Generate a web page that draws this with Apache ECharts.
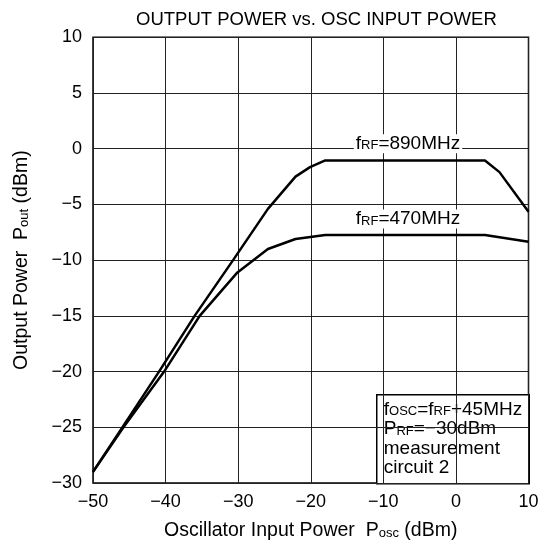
<!DOCTYPE html>
<html>
<head>
<meta charset="utf-8">
<script src="https://cdn.jsdelivr.net/npm/echarts@6/dist/echarts.min.js"></script>
<style>
  html, body { margin: 0; padding: 0; background: #fff; }
  #chart { width: 547px; height: 546px; }
</style>
</head>
<body>
<div id="chart"></div>
<script>
// Oscillator input power (dBm) and output power (dBm) for each RF frequency
const pin890 = [-50, -40.9, -36, -30.7, -25.9, -22.1, -20.1, -18, 4, 6, 10];
const pout890 = [-29, -20, -15, -10, -5.4, -2.5, -1.65, -1.05, -1.05, -2.1, -5.65];

const pin470 = [-50, -45.8, -40.2, -35.3, -30.1, -25.9, -22.1, -18, 4, 10];
const pout470 = [-29, -25, -20, -15, -11.1, -9.0, -8.1, -7.75, -7.75, -8.35];

const xTicks = [-50, -40, -30, -20, -10, 0, 10];
const yTicks = [-30, -25, -20, -15, -10, -5, 0, 5, 10];

const FONT = '"Liberation Sans", Arial, sans-serif';
const minus = v => String(v).replace('-', '\u2212');

const pairs = (xs, ys) => xs.map((x, i) => [x, ys[i]]);

const sub = { fontSize: 13, fontFamily: FONT, color: '#000', verticalAlign: 'bottom', padding: [0, 0, 1, 0] };
const main = { fontSize: 19, fontFamily: FONT, color: '#000' };
const nameMain = Object.assign({}, main, { fontSize: 19.5 });

const chart = echarts.init(document.getElementById('chart'), null, { renderer: 'canvas' });

const curveLabel = (name, x, y) => ({
  symbol: 'rect',
  symbolSize: 1,
  itemStyle: { color: 'rgba(0,0,0,0)' },
  silent: true,
  data: [{
    coord: [x, y],
    label: {
      show: true,
      position: 'inside',
      formatter: '{m|f}{s|RF}{m|=' + name + '}',
      backgroundColor: '#fff',
      padding: [0, 2, 0, 2],
      rich: { m: main, s: sub }
    }
  }]
});

chart.setOption({
  animation: false,
  backgroundColor: '#fff',
  title: {
    text: 'OUTPUT POWER vs. OSC INPUT POWER',
    left: 136,
    top: 10,
    padding: 0,
    textStyle: { fontFamily: FONT, fontSize: 18.5, fontWeight: 'normal', color: '#000' }
  },
  grid: {
    left: 93, right: 18.5, top: 37.3, bottom: 63,
    show: true, borderColor: '#000', borderWidth: 1.5, backgroundColor: 'transparent'
  },
  xAxis: {
    type: 'value', min: -50, max: 10, interval: 10,
    axisLine: { show: false }, axisTick: { show: false },
    splitLine: { show: true, lineStyle: { color: '#222', width: 1 } },
    axisLabel: {
      margin: 10, fontFamily: FONT, fontSize: 18, color: '#000',
      formatter: v => xTicks.includes(v) ? minus(v) : ''
    },
    name: '{m|Oscillator Input Power  P}{s|osc}{m| (dBm)}',
    nameLocation: 'middle', nameGap: 38,
    nameTextStyle: { rich: { m: nameMain, s: sub } }
  },
  yAxis: {
    type: 'value', min: -30, max: 10, interval: 5,
    axisLine: { show: false }, axisTick: { show: false },
    splitLine: { show: true, lineStyle: { color: '#222', width: 1 } },
    axisLabel: {
      margin: 11, fontFamily: FONT, fontSize: 18, color: '#000',
      formatter: v => yTicks.includes(v) ? minus(v) : ''
    },
    name: '{m|Output Power  P}{s|out}{m| (dBm)}',
    nameLocation: 'middle', nameGap: 61, nameRotate: 90,
    nameTextStyle: { rich: { m: nameMain, s: sub } }
  },
  series: [
    {
      type: 'line', data: pairs(pin890, pout890), symbol: 'none',
      lineStyle: { color: '#000', width: 2.5 }, z: 3,
      markPoint: curveLabel('890MHz', -6.6, 0.45)
    },
    {
      type: 'line', data: pairs(pin470, pout470), symbol: 'none',
      lineStyle: { color: '#000', width: 2.5 }, z: 3,
      markPoint: curveLabel('470MHz', -6.6, -6.3)
    }
  ],
  graphic: [{
    type: 'group', left: 376, top: 394, z: 10,
    children: [
      { type: 'rect', shape: { x: 0, y: 0, width: 152.5, height: 89 },
        style: { fill: '#fff', stroke: '#000', lineWidth: 1.5 } },
      { type: 'text', x: 7, y: 5,
        style: {
          text: '{m|f}{s|OSC}{m|=f}{s|RF}{m|+45MHz}\n{m|P}{s|RF}{m|=\u221230dBm}\n{m|measurement}\n{m|circuit 2}',
          lineHeight: 19.5,
          rich: { m: Object.assign({ lineHeight: 19.5 }, main), s: Object.assign({ lineHeight: 19.5 }, sub) }
        } }
    ]
  }]
});
</script>
</body>
</html>
